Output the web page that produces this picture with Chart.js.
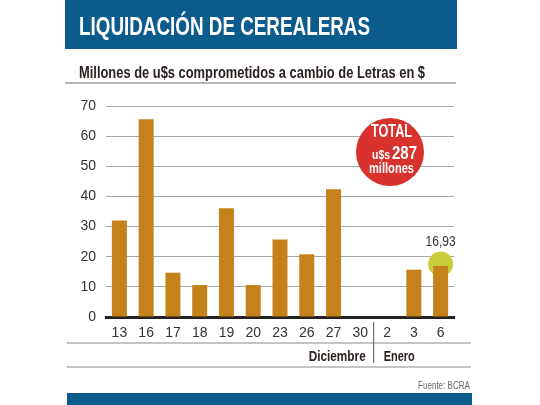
<!DOCTYPE html>
<html>
<head>
<meta charset="utf-8">
<script src="https://cdn.jsdelivr.net/npm/chart.js@4.4.1/dist/chart.umd.min.js"></script>
<style>
  html, body { margin: 0; padding: 0; background: #fff; }
  #wrap { width: 540px; height: 405px; }
</style>
</head>
<body>
<div id="wrap"><canvas id="cereal" width="540" height="405"></canvas></div>
<script>
//--------------------------------------------- datos
const dias = ['13', '16', '17', '18', '19', '20', '23', '26', '27', '30', '2', '3', '6'];
const millones = [32, 65.6, 14.7, 10.6, 36.1, 10.6, 25.7, 20.8, 42.4, 0, 0, 15.7, 16.93];
const meses = ['Diciembre', 'Enero'];
const corteMes = 10; // primer indice de enero
const destacado = 12;
const etiquetaDestacado = '16,93';
const yMax = 70;
const yPaso = 10;

const narrow = "'Liberation Sans Narrow', 'Liberation Sans', Arial, sans-serif";
const azul = '#0b5b8d';

//--------------------------------------------- plugin con los textos
const decorado = {
  id: 'decorado',
  beforeDraw(chart) {
    const c = chart.ctx;
    c.save();
    c.fillStyle = '#fff';
    c.fillRect(0, 0, chart.width, chart.height);
    // banda de titulo
    c.fillStyle = azul;
    c.fillRect(65, 0, 392, 49);
    c.fillStyle = '#fff';
    c.font = 'bold 25px ' + narrow;
    c.textBaseline = 'alphabetic';
    c.fillText('LIQUIDACIÓN DE CEREALERAS', 79, 35, 291);
    // subtitulo
    c.fillStyle = '#2b2220';
    c.font = 'bold 17px ' + narrow;
    c.fillText('Millones de u$s comprometidos a cambio de Letras en $', 79, 78, 346);
    c.strokeStyle = '#9a9a9a';
    c.lineWidth = 1.5;
    c.beginPath();
    c.moveTo(65, 83); c.lineTo(456, 83);
    c.stroke();
    c.restore();
  },
  beforeDatasetsDraw(chart) {
    const c = chart.ctx;
    const x = chart.scales.x, y = chart.scales.y;
    const cx = x.getPixelForValue(destacado);
    const cy = y.getPixelForValue(millones[destacado]) - 2;
    c.save();
    c.fillStyle = '#c9cd3b';
    c.beginPath();
    c.arc(cx, cy, 12.5, 0, Math.PI * 2);
    c.fill();
    c.fillStyle = '#333';
    c.font = '14px ' + narrow;
    c.textAlign = 'center';
    c.fillText(etiquetaDestacado, cx, cy - 18, 30);
    c.restore();
  },
  afterDraw(chart) {
    const c = chart.ctx;
    const x = chart.scales.x;
    c.save();
    // circulo rojo
    c.fillStyle = '#d7322c';
    c.beginPath();
    c.arc(390, 152, 34, 0, Math.PI * 2);
    c.fill();
    c.fillStyle = '#fff';
    c.textAlign = 'left';
    c.font = 'bold 18px ' + narrow;
    c.fillText('TOTAL', 371, 137, 41);
    c.font = 'bold 13px ' + narrow;
    c.fillText('u$s', 372, 159, 18);
    c.font = 'bold 19px ' + narrow;
    c.fillText('287', 392, 159, 25);
    c.font = 'bold 15px ' + narrow;
    c.fillText('millones', 369, 173, 45);

    // lineas bajo el eje
    c.strokeStyle = '#8a8a8a';
    c.lineWidth = 1.2;
    c.beginPath();
    c.moveTo(67, 343); c.lineTo(471, 343);
    c.moveTo(67, 367); c.lineTo(471, 367);
    c.stroke();
    const sep = (x.getPixelForValue(corteMes - 1) + x.getPixelForValue(corteMes)) / 2;
    c.strokeStyle = '#555';
    c.lineWidth = 1;
    c.beginPath();
    c.moveTo(sep, 322); c.lineTo(sep, 363);
    c.stroke();
    c.fillStyle = '#2b2220';
    c.font = 'bold 15px ' + narrow;
    c.textAlign = 'right';
    c.fillText(meses[0], sep - 8, 361, 57);
    c.textAlign = 'left';
    c.fillText(meses[1], sep + 10, 361, 31);

    // fuente y banda inferior
    c.fillStyle = '#666';
    c.font = '11px ' + narrow;
    c.textAlign = 'right';
    c.fillText('Fuente: BCRA', 470, 389, 52);
    c.fillStyle = azul;
    c.fillRect(67, 393, 405, 12);
    c.restore();
  }
};

//--------------------------------------------- grafico
const dataCereal = {
  labels: dias,
  datasets: [{
    data: millones,
    backgroundColor: '#c5821b',
    borderWidth: 0,
    categoryPercentage: 1,
    barPercentage: 0.56
  }]
};

const configCereal = {
  type: 'bar',
  data: dataCereal,
  options: {
    responsive: false,
    animation: false,
    layout: { padding: { left: 60, right: 86, top: 106, bottom: 0 } },
    plugins: { legend: { display: false }, tooltip: { enabled: false } },
    scales: {
      x: {
        afterFit(scale) { scale.height = 88; },
        grid: { display: false, drawTicks: false },
        border: { display: true, color: '#222', width: 3 },
        ticks: { color: '#333', font: { family: narrow, size: 14 }, padding: 8, maxRotation: 0 }
      },
      y: {
        min: 0,
        max: yMax,
        afterFit(scale) { scale.width = 46; },
        grid: { color: '#a8a8a8', lineWidth: 1, drawTicks: false },
        border: { display: false },
        ticks: { stepSize: yPaso, color: '#333', font: { family: narrow, size: 14 }, padding: 10 }
      }
    }
  },
  plugins: [decorado]
};

var chartCereal = new Chart(
  document.getElementById('cereal'),
  configCereal
);
</script>
</body>
</html>
